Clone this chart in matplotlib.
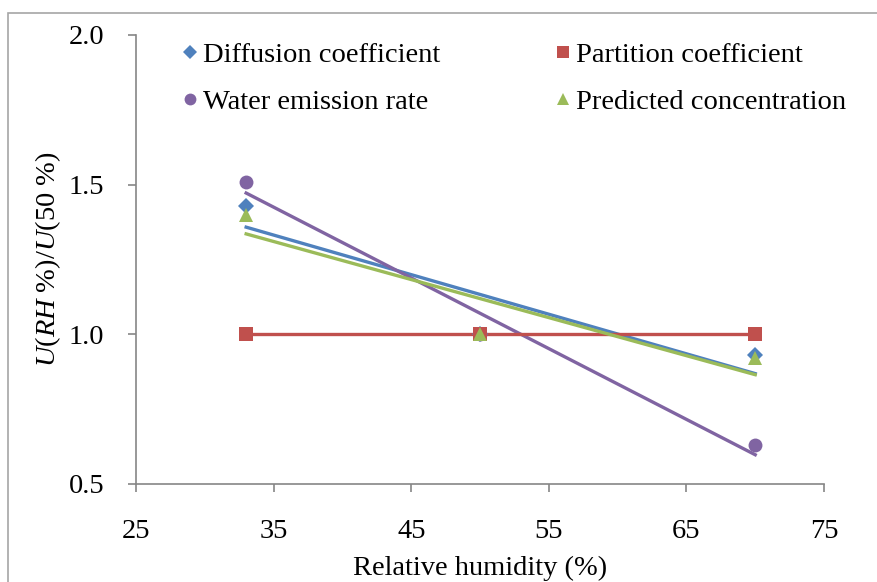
import matplotlib
matplotlib.use("Agg")

import numpy as np
import matplotlib.pyplot as plt
from matplotlib.patches import Rectangle

# ---------------------------------------------------------
# Data: ratio U(RH%)/U(50%) at three humidities
# ---------------------------------------------------------
rh = [33, 50, 70]

diffusion = [1.43, 1.00, 0.93]
partition = [1.00, 1.00, 1.00]
water_emission = [1.51, 1.00, 0.63]
predicted = [1.40, 1.00, 0.92]

x_ticks = [25, 35, 45, 55, 65, 75]
y_ticks = [0.5, 1.0, 1.5, 2.0]

SERIES = [
    ("Diffusion coefficient", diffusion, "#4F81BD", "D"),
    ("Water emission rate", water_emission, "#8064A2", "o"),
    ("Partition coefficient", partition, "#C0504D", "s"),
    ("Predicted concentration", predicted, "#9BBB59", "^"),
]
MARKER_SIZE = {"D": 8, "o": 10, "s": 9.5, "^": 9.5}
FS = 20.5

plt.rcParams["font.family"] = ["Liberation Serif", "DejaVu Serif"]
plt.rcParams["mathtext.fontset"] = "custom"
plt.rcParams["mathtext.rm"] = "Liberation Serif"
plt.rcParams["mathtext.it"] = "Liberation Serif:italic"

fig = plt.figure(figsize=(8.78, 5.82), dpi=100)
ax = fig.add_axes([0.155, 0.1684, 0.7835, 0.7715])

# outer chart border (only top/left visible)
fig.patches.append(Rectangle((8 / 878, -0.1), 1.2, 1.1 - 13 / 582,
                             transform=fig.transFigure, fill=False,
                             edgecolor="#A6A6A6", linewidth=1.2))

xs = np.array(rh, dtype=float)
handles = []
for label, vals, color, mk in SERIES:
    ys = np.array(vals)
    # linear trendline over the data range
    k, b = np.polyfit(xs, ys, 1)
    ax.plot([xs[0], xs[-1]], [k * xs[0] + b, k * xs[-1] + b],
            color=color, lw=2.4, zorder=2)
    ax.plot(xs, ys, linestyle="none", marker=mk, color=color,
            markersize=MARKER_SIZE[mk], markeredgewidth=0, zorder=3)
    h, = ax.plot([], [], linestyle="none", marker=mk, color=color,
                 markersize=MARKER_SIZE[mk] * 0.85, markeredgewidth=0,
                 label=label)
    handles.append(h)

ax.set_xlim(25, 75)
ax.set_ylim(0.5, 2.0)
ax.set_xticks(x_ticks)
ax.set_yticks(y_ticks)
ax.set_xticklabels([str(t) for t in x_ticks])
ax.set_yticklabels([f"{t:.1f}" for t in y_ticks])

for side in ("top", "right"):
    ax.spines[side].set_visible(False)
for side in ("left", "bottom"):
    ax.spines[side].set_color("#868686")
    ax.spines[side].set_linewidth(1.2)

ax.tick_params(axis="both", direction="out", length=6, width=1.2,
               color="#868686", labelsize=FS)
ax.tick_params(axis="x", pad=19)
ax.tick_params(axis="y", pad=17)

ax.set_xlabel("Relative humidity (%)", fontsize=FS, labelpad=9)
ax.set_ylabel(r"$U(RH\ \%)/U(50\ \%)$", fontsize=FS, labelpad=4)

ax.legend(handles=handles, loc="upper left", ncol=2, frameon=False,
          fontsize=FS, bbox_to_anchor=(0.05, 1.01),
          handlelength=0.6, handletextpad=0.15, labelspacing=0.75,
          columnspacing=4.0, borderaxespad=0)

fig.savefig("out.png", dpi=100)
